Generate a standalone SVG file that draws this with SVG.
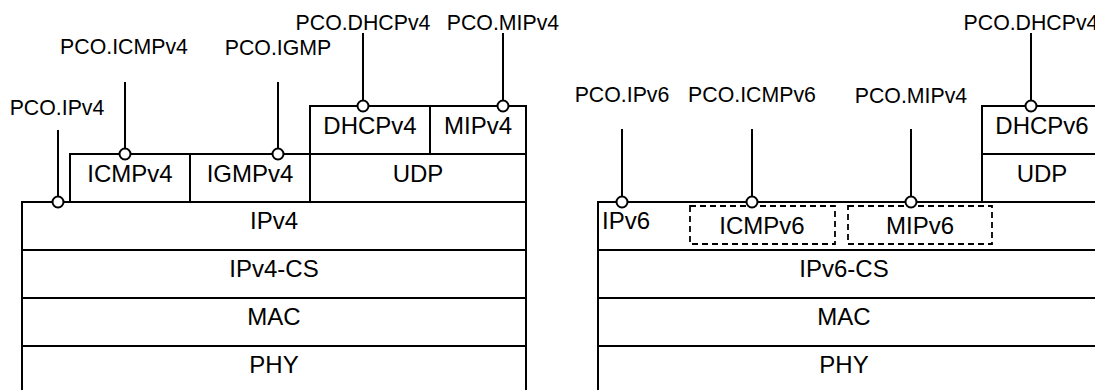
<svg xmlns="http://www.w3.org/2000/svg" width="1095" height="390" viewBox="0 0 1095 390">
<style>
.b{fill:#fff;stroke:#000;stroke-width:2}
.d{fill:none;stroke:#000;stroke-width:1.8;stroke-dasharray:6 4}
.t{font-family:"Liberation Sans",Arial,sans-serif;font-size:24px;fill:#000;text-anchor:middle}
.l{font-family:"Liberation Sans",Arial,sans-serif;font-size:21.3px;fill:#000;text-anchor:middle}
.c{stroke:#000;stroke-width:2;fill:none}
.p{fill:#fff;stroke:#000;stroke-width:2}
</style>
<rect width="1095" height="390" fill="#fff"/>
<g id="left-stack">
<g id="n-icmpv4"><rect class="b" x="70" y="154" width="120" height="48"/><text class="t" x="130" y="182">ICMPv4</text></g>
<g id="n-igmpv4"><rect class="b" x="190" y="154" width="120" height="48"/><text class="t" x="250" y="182">IGMPv4</text></g>
<g id="n-dhcpv4"><rect class="b" x="310" y="106" width="120" height="48"/><text class="t" x="370" y="134">DHCPv4</text></g>
<g id="n-mipv4"><rect class="b" x="430" y="106" width="96" height="48"/><text class="t" x="478" y="134">MIPv4</text></g>
<g id="n-udp4"><rect class="b" x="310" y="154" width="216" height="48"/><text class="t" x="418" y="182">UDP</text></g>
<g id="n-ipv4"><rect class="b" x="22" y="202" width="504" height="48"/><text class="t" x="274" y="229">IPv4</text></g>
<g id="n-ipv4cs"><rect class="b" x="22" y="250" width="504" height="48"/><text class="t" x="274" y="277">IPv4-CS</text></g>
<g id="n-mac4"><rect class="b" x="22" y="298" width="504" height="48"/><text class="t" x="274" y="325">MAC</text></g>
<g id="n-phy4"><rect class="b" x="22" y="346" width="504" height="50"/><text class="t" x="274" y="373">PHY</text></g>
</g>
<g id="right-stack">
<g id="n-dhcpv6"><rect class="b" x="982" y="106" width="130" height="48"/><text class="t" x="1042" y="134">DHCPv6</text></g>
<g id="n-udp6"><rect class="b" x="982" y="154" width="130" height="48"/><text class="t" x="1042" y="182">UDP</text></g>
<g id="n-ipv6"><rect class="b" x="598" y="202" width="514" height="48"/><text class="t" x="602" y="229" style="text-anchor:start">IPv6</text></g>
<g id="n-icmpv6"><rect class="d" x="690" y="206" width="145" height="38"/><text class="t" x="762" y="234">ICMPv6</text></g>
<g id="n-mipv6"><rect class="d" x="848" y="206" width="144" height="38"/><text class="t" x="920" y="234">MIPv6</text></g>
<g id="n-ipv6cs"><rect class="b" x="598" y="250" width="514" height="48"/><text class="t" x="844" y="277">IPv6-CS</text></g>
<g id="n-mac6"><rect class="b" x="598" y="298" width="514" height="48"/><text class="t" x="844" y="325">MAC</text></g>
<g id="n-phy6"><rect class="b" x="598" y="346" width="514" height="50"/><text class="t" x="844" y="373">PHY</text></g>
</g>
<g id="connectors">
<line class="c" x1="58" y1="130" x2="58" y2="202"/>
<line class="c" x1="125" y1="82" x2="125" y2="154"/>
<line class="c" x1="278" y1="82" x2="278" y2="154"/>
<line class="c" x1="363" y1="33" x2="363" y2="106"/>
<line class="c" x1="503" y1="33" x2="503" y2="106"/>
<line class="c" x1="622" y1="129" x2="622" y2="202"/>
<line class="c" x1="752" y1="129" x2="752" y2="202"/>
<line class="c" x1="911" y1="129" x2="911" y2="202"/>
<line class="c" x1="1031" y1="33" x2="1031" y2="106"/>
<circle class="p" cx="58" cy="202" r="5.5"/>
<circle class="p" cx="125" cy="154" r="5.5"/>
<circle class="p" cx="278" cy="154" r="5.5"/>
<circle class="p" cx="363" cy="106" r="5.5"/>
<circle class="p" cx="503" cy="106" r="5.5"/>
<circle class="p" cx="622" cy="202" r="5.5"/>
<circle class="p" cx="752" cy="202" r="5.5"/>
<circle class="p" cx="911" cy="202" r="5.5"/>
<circle class="p" cx="1031" cy="106" r="5.5"/>
</g>
<g id="labels">
<text class="l" x="57" y="115">PCO.IPv4</text>
<text class="l" x="124" y="54">PCO.ICMPv4</text>
<text class="l" x="278" y="55">PCO.IGMP</text>
<text class="l" x="363" y="30">PCO.DHCPv4</text>
<text class="l" x="503" y="30">PCO.MIPv4</text>
<text class="l" x="622" y="102">PCO.IPv6</text>
<text class="l" x="752" y="102">PCO.ICMPv6</text>
<text class="l" x="911" y="103">PCO.MIPv4</text>
<text class="l" x="1031" y="30">PCO.DHCPv4</text>
</g>
</svg>
